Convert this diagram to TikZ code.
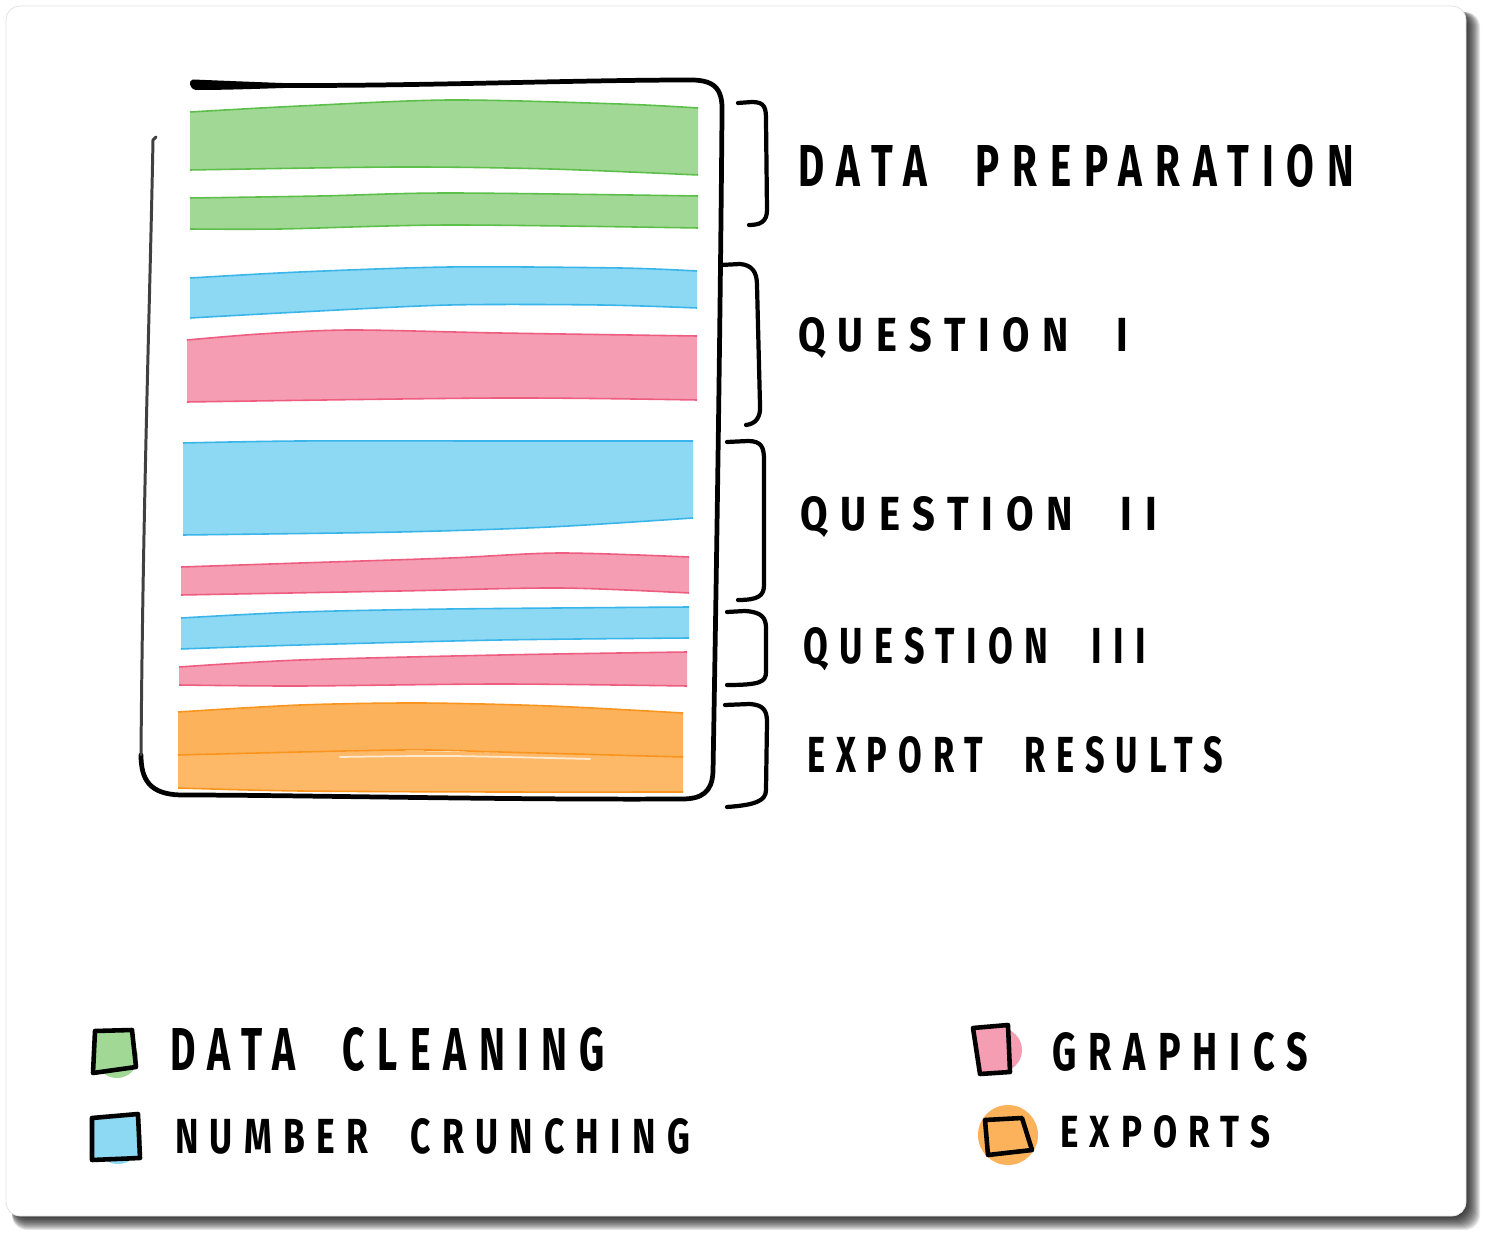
\documentclass[tikz,border=0pt]{standalone}
\usepackage{fontspec}
\usepackage{graphicx}
\newfontfamily\hand{Fira Sans}[LetterSpace=32]
\newlength\upx
\setlength\upx{0.02cm}
\definecolor{greenfill}{HTML}{A2D895}
\definecolor{greenedge}{HTML}{5BBF4A}
\definecolor{bluefill}{HTML}{8DD8F3}
\definecolor{blueedge}{HTML}{3AB5EA}
\definecolor{pinkfill}{HTML}{F59DB3}
\definecolor{pinkedge}{HTML}{EE5C80}
\definecolor{orangefill}{HTML}{FCB25A}
\definecolor{orangelight}{HTML}{FDB968}
\definecolor{orangeedge}{HTML}{F9941E}
\newcommand\colbar[3]{%
  \fill[#1fill] plot[smooth] coordinates {#2} -- plot[smooth] coordinates {#3} -- cycle;
  \draw[#1edge, line width=0.9pt] plot[smooth] coordinates {#2};
  \draw[#1edge, line width=0.9pt] plot[smooth] coordinates {#3};
}
\newcommand\fittext[3]{\resizebox{#1\upx}{#2\upx}{\hand\bfseries #3}}
\newcommand\wsp{\hspace*{1.2em}}
\begin{document}
\begin{tikzpicture}[x=0.02cm,y=-0.02cm,
  outline/.style={line width=2.7pt, line cap=round, line join=round, black},
  brk/.style={line width=2.4pt, line cap=round, line join=round, black},
  legbox/.style={line width=2.6pt, line join=round, line cap=round, black},
  lbl/.style={anchor=north west, inner sep=0pt, outer sep=0pt}]
\useasboundingbox (0,0) rectangle (1488,1239);
\fill[white] (0,0) rectangle (1488,1239);
% card shadow
\foreach \k in {1,...,14}
  \fill[black, opacity=0.09, rounded corners=0.3cm] (12,12) rectangle ({1466+\k},{1216+\k});
% card
\fill[white, draw=black!12, line width=0.4pt, rounded corners=0.28cm] (6,6) rectangle (1466,1216);

% colour bars
\colbar{green}{(190,112) (300,106) (450,100) (620,104) (698,108)}{(698,175) (550,169) (400,167) (190,170)}
\colbar{green}{(190,198) (320,196) (450,193) (698,196)}{(698,228) (450,225) (280,229) (190,229)}
\colbar{blue}{(190,278) (300,272) (450,267) (620,268) (697,271)}{(697,308) (600,305) (450,305) (300,312) (190,318)}
\colbar{pink}{(187,340) (260,334) (350,330) (500,333) (697,336)}{(697,400) (500,398) (187,402)}
\colbar{blue}{(183,443) (300,441) (500,441) (693,441)}{(693,518) (550,527) (400,532) (183,535)}
\colbar{pink}{(181,567) (300,563) (450,558) (560,553) (689,557)}{(689,593) (560,588) (400,591) (181,595)}
\colbar{blue}{(181,618) (300,612) (450,609) (689,607)}{(689,638) (500,640) (300,645) (181,649)}
\colbar{pink}{(179,667) (300,660) (500,655) (687,652)}{(687,686) (500,684) (300,686) (179,685)}
\fill[orangelight] plot[smooth] coordinates {(178,755) (400,751) (683,757)} -- plot[smooth] coordinates {(683,792) (500,792) (300,791) (178,788)} -- cycle;
\draw[orangeedge, line width=0.9pt] plot[smooth] coordinates {(683,792) (500,792) (300,791) (178,788)};
\colbar{orange}{(178,712) (300,705) (420,703) (550,706) (683,713)}{(683,757) (500,752) (400,750) (178,755)}
\draw[white, opacity=0.7, line width=1pt, line cap=round] plot[smooth] coordinates {(340,757) (450,756) (590,759)};

% main outline
\fill[black] (193,79.5) .. controls (230,81) and (265,82.5) .. (300,83.6) -- (300,87.5) .. controls (265,88.5) and (230,90) .. (196,90) .. controls (189,89) and (188,80) .. (193,79.5) -- cycle;
\draw[outline] (193,84) .. controls (350,89) and (550,80) .. (691,80)
  .. controls (718,80) and (723,92) .. (722,115)
  .. controls (720,350) and (716,600) .. (713,772)
  .. controls (712,792) and (702,799) .. (682,799)
  .. controls (500,800) and (300,795) .. (180,795)
  .. controls (150,794) and (141,780) .. (141,755);
\draw[outline, black!75, line width=1.7pt] (141,755) .. controls (143,500) and (150,300) .. (153,140) -- (156,137);

% brackets
\draw[brk] (738,103) -- (752,102) .. controls (765,102) and (766,108) .. (766,120) -- (767,210) .. controls (767,222) and (760,225) .. (749,225);
\draw[brk] (721,265) -- (740,264) .. controls (752,265) and (757,272) .. (757,285) -- (760,405) .. controls (761,418) and (755,424) .. (746,425);
\draw[brk] (727,442) -- (748,441) .. controls (762,441) and (764,448) .. (764,460) -- (764,585) .. controls (764,596) and (758,600) .. (738,600);
\draw[brk] (727,612) -- (745,611) .. controls (762,612) and (766,618) .. (766,628) -- (766,672) .. controls (766,682) and (760,685) .. (727,685);
\draw[brk] (725,705) -- (750,704) .. controls (763,705) and (767,710) .. (767,722) -- (766,790) .. controls (766,801) and (755,805) .. (727,807);

% section labels
\node[lbl] (dataprep) at (798,145) {\fittext{556}{42}{DATA\wsp PREPARATION}};
\node[lbl] (q1) at (798,318) {\fittext{330}{34}{QUESTION\wsp I}};
\node[lbl] (q2) at (800,497) {\fittext{357}{34}{QUESTION\wsp II}};
\node[lbl] (q3) at (803,627) {\fittext{343}{36}{QUESTION\wsp III}};
\node[lbl] (export) at (807,736) {\fittext{416}{36}{EXPORT\wsp RESULTS}};

% legend
\fill[greenfill] (117,1057) circle (21);
\draw[legbox, fill=greenfill] (95,1031) -- (132,1030) -- (136,1067) -- (93,1073) -- cycle;
\fill[bluefill] (118,1140) circle (24);
\draw[legbox, fill=bluefill] (92,1118) -- (138,1114) -- (140,1158) -- (92,1160) -- cycle;
\fill[pinkfill] (1000,1050) circle (22);
\draw[legbox, fill=pinkfill] (973,1028) -- (1008,1025) -- (1010,1072) -- (980,1074) -- cycle;
\fill[orangefill] (1008,1135) circle (30);
\draw[legbox, fill=orangefill] (985,1120) -- (1022,1118) -- (1032,1150) -- (988,1155) -- cycle;

\node[lbl] (lclean) at (170,1027) {\fittext{435}{43}{DATA\wsp CLEANING}};
\node[lbl] (lcrunch) at (175,1118) {\fittext{515}{35}{NUMBER\wsp CRUNCHING}};
\node[lbl] (lgraph) at (1052,1032) {\fittext{256}{38}{GRAPHICS}};
\node[lbl] (lexport) at (1060,1115) {\fittext{210}{32}{EXPORTS}};
\end{tikzpicture}
\end{document}
